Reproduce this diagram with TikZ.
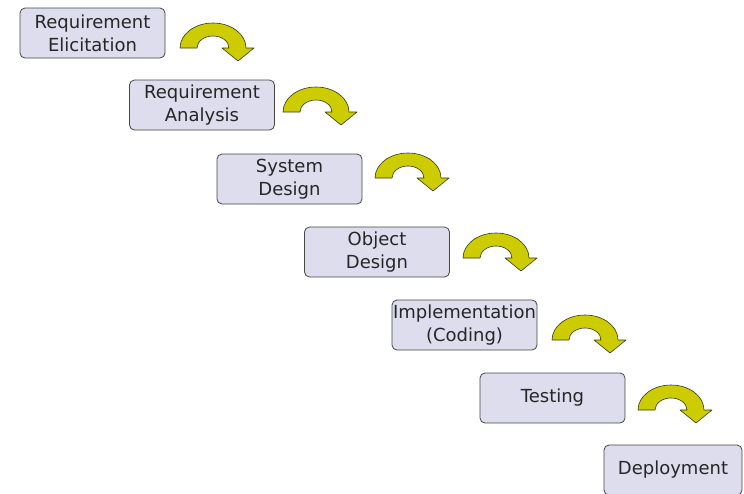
\documentclass[tikz,border=0pt]{standalone}
\usepackage{fontspec}
\setmainfont{DejaVu Sans}
\usepackage{tikz}
\definecolor{phasefill}{RGB}{221,221,238}
\definecolor{phaseline}{RGB}{70,70,70}
\definecolor{turnfill}{RGB}{204,204,0}
\definecolor{turnline}{RGB}{55,55,25}

\begin{document}
\begin{tikzpicture}[
  x=1pt, y=1pt,
  phase/.style={rectangle, draw=phaseline, fill=phasefill, text=black!85,
                rounded corners=5pt, minimum width=145pt, minimum height=50pt,
                inner sep=0pt, line width=0.8pt, align=center,
                font=\fontsize{18}{23}\selectfont},
  turn/.pic={
    \filldraw[fill=turnfill, draw=turnline, line width=0.6pt, line join=round]
      (-33,0) arc[start angle=180, end angle=0, x radius=33, y radius=25]
      -- (41,0) -- (25,-13) -- (9,0) -- (16,0)
      arc[start angle=0, end angle=180, x radius=16, y radius=12] -- cycle;
  },
]
\clip (0,0) rectangle (744,-493);

% Phases
\node[phase] (elicit) at (92.5,-33) {Requirement\\Elicitation};
\node[phase] (analysis) at (202,-105) {Requirement\\Analysis};
\node[phase] (sysdesign) at (289.5,-179) {System\\Design};
\node[phase] (objdesign) at (377,-252) {Object\\Design};
\node[phase] (impl) at (464.5,-325) {Implementation\\(Coding)};
\node[phase] (testing) at (552.5,-398) {Testing};
\node[phase, minimum width=138pt] (deploy) at (673,-470) {Deployment};

% Turn arrows
\pic at (213,-48) {turn};
\pic at (316,-112) {turn};
\pic at (408,-178) {turn};
\pic at (496,-258) {turn};
\pic at (585,-340) {turn};
\pic at (671,-410) {turn};

\end{tikzpicture}
\end{document}
